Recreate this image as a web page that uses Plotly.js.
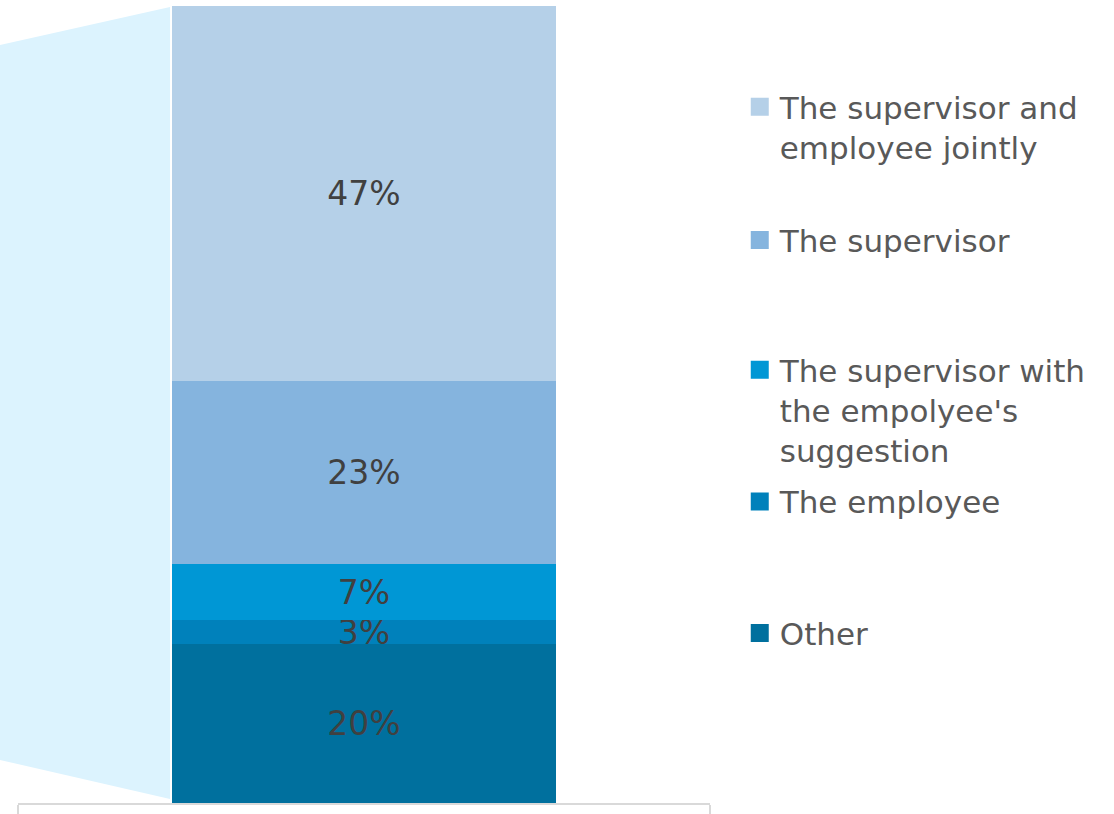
<!DOCTYPE html>
<html>
<head>
<meta charset="utf-8">
<script src="https://cdn.plot.ly/plotly-3.0.1.min.js"></script>
<style>
  html, body { margin: 0; padding: 0; background: #ffffff; }
  #chart { width: 1114px; height: 814px; }
</style>
</head>
<body>
<div id="chart"></div>
<script>
// Stack order from bottom to top
const categories = ["All"];
const seriesNames = [
  "Other",
  "The employee",
  "The supervisor with<br>the empolyee's<br>suggestion",
  "The supervisor",
  "The supervisor and<br>employee jointly"
];
const seriesValues = [20, 3, 7, 23, 47];
const seriesColors = ["#00709e", "#0081bb", "#0097d5", "#85b4de", "#b5d0e8"];
const legendNames = ["legend5", "legend4", "legend3", "legend2", "legend"];
const legendY = [0.213, 0.378, 0.493, 0.706, 0.848];

const barTraces = seriesNames.map((name, i) => ({
  type: "bar",
  x: [0],
  y: [seriesValues[i]],
  name: name,
  showlegend: false,
  width: 0.555,
  marker: { color: seriesColors[i], line: { width: 0 } },
  text: [seriesValues[i] + "%"],
  textposition: "inside",
  insidetextanchor: "middle",
  constraintext: "none",
  textfont: { family: "DejaVu Sans, Verdana, sans-serif", size: 33, color: "#404040" },
  hoverinfo: "name+y"
}));

// legend entries (square swatches), no data points of their own
const legendTraces = seriesNames.map((name, i) => ({
  type: "scatter",
  mode: "markers",
  x: [null],
  y: [null],
  name: name,
  legend: legendNames[i],
  showlegend: true,
  marker: { symbol: "square", size: 16, color: seriesColors[i], line: { width: 2, color: seriesColors[i] } },
  hoverinfo: "skip"
}));

const legendBase = {
  x: 1.043,
  xanchor: "left",
  yanchor: "middle",
  valign: "top",
  itemsizing: "trace",
  bgcolor: "rgba(0,0,0,0)",
  font: { family: "DejaVu Sans, Verdana, sans-serif", size: 31, color: "#595959" },
  itemclick: false,
  itemdoubleclick: false,
  tracegroupgap: 0
};

const layout = {
  width: 1114,
  height: 814,
  margin: { l: 18, r: 404, t: 6, b: 11, pad: 0 },
  paper_bgcolor: "#ffffff",
  plot_bgcolor: "rgba(0,0,0,0)",
  barmode: "stack",
  bargap: 0,
  showlegend: true,
  xaxis: {
    range: [-0.5, 0.5],
    showgrid: false,
    zeroline: false,
    showline: true,
    linecolor: "#d9d9d9",
    linewidth: 1.5,
    ticks: "outside",
    tickvals: [-0.5, 0.5],
    ticklen: 10,
    tickcolor: "#d9d9d9",
    tickwidth: 1.5,
    showticklabels: false,
    fixedrange: true
  },
  yaxis: {
    range: [0, 100],
    showgrid: false,
    zeroline: false,
    showline: false,
    showticklabels: false,
    ticks: "",
    fixedrange: true
  },
  shapes: [{
    type: "path",
    xref: "paper",
    yref: "paper",
    path: "M -0.026 0.951 L 0.2197 0.9987 L 0.2197 0.005 L -0.026 0.054 Z",
    fillcolor: "#dcf3fe",
    line: { width: 0 },
    layer: "below"
  }],
  legend: Object.assign({}, legendBase, { y: legendY[4] }),
  legend2: Object.assign({}, legendBase, { y: legendY[3] }),
  legend3: Object.assign({}, legendBase, { y: legendY[2] }),
  legend4: Object.assign({}, legendBase, { y: legendY[1] }),
  legend5: Object.assign({}, legendBase, { y: legendY[0] })
};

Plotly.newPlot("chart", barTraces.concat(legendTraces), layout, { displayModeBar: false });
</script>
</body>
</html>
